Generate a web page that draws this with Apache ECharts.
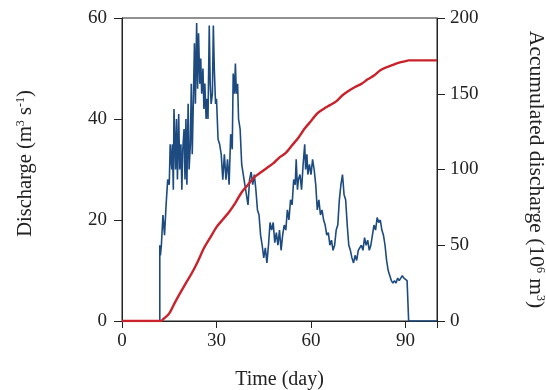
<!DOCTYPE html>
<html>
<head>
<meta charset="utf-8">
<script src="https://cdn.jsdelivr.net/npm/echarts@6/dist/echarts.min.js"></script>
<style>
  html, body { margin: 0; padding: 0; background: #fff; }
  #chart { width: 546px; height: 390px; }
</style>
</head>
<body>
<div id="chart"></div>
<script>
// 日流量 (m3 s-1)
const qDays = [0, 12, 12, 12.2, 12.5, 13, 13.5, 14, 14.5, 15, 15.3, 15.8, 16, 16.3, 16.5, 17, 17.3, 17.6, 18, 18.3, 18.7, 19, 19.3, 19.7, 20, 20.3, 20.6, 21, 21.3, 21.7, 22, 22.3, 22.7, 23, 23.3, 23.7, 24, 24.3, 24.7, 25, 25.3, 25.7, 26, 26.3, 26.7, 27, 27.3, 27.7, 28, 28.3, 28.7, 29, 29.3, 29.7, 30, 30.5, 31, 31.5, 32, 32.5, 33, 33.5, 34, 34.5, 35, 35.3, 35.7, 36, 36.3, 36.7, 37, 37.5, 38, 38.5, 39, 39.5, 40, 40.5, 41, 41.5, 42, 42.5, 43, 43.5, 44, 44.5, 45, 45.5, 46, 46.5, 47, 47.5, 48, 48.5, 49, 49.5, 50, 50.5, 51, 51.5, 52, 52.5, 53, 53.5, 54, 54.5, 55, 55.3, 55.7, 56, 56.5, 57, 57.5, 58, 58.3, 58.7, 59, 59.5, 60, 60.5, 61, 61.5, 62, 62.5, 63, 63.5, 64, 64.5, 65, 65.5, 66, 66.5, 67, 67.5, 68, 68.5, 69, 69.5, 70, 70.5, 71, 71.5, 72, 72.5, 73, 73.5, 74, 74.5, 75, 75.5, 76, 76.5, 77, 77.5, 78, 78.5, 79, 79.5, 80, 80.5, 81, 81.5, 82, 82.5, 83, 83.5, 84, 84.5, 85, 85.5, 86, 86.5, 87, 87.5, 88, 88.5, 89, 89.5, 90, 90.5, 91, 91, 100];
const discharge = [0, 0, 15, 13, 15, 21, 17, 23, 28, 27, 35, 30, 35, 26, 42, 30, 40, 28, 41, 30, 35, 26, 34, 38, 28, 40, 27, 43, 30, 35, 47, 33, 45, 55, 43, 59, 46, 57, 47, 52, 45, 50, 42, 47, 40, 44, 40, 58.5, 47, 43, 45, 58.5, 50, 43, 44, 36, 35, 33, 28, 33, 28, 32, 27, 37, 34, 49, 45, 51, 45, 47, 40, 38, 31, 29, 27, 25, 23, 28, 29.5, 27, 29, 26, 22, 21, 17, 15, 12.5, 14.5, 11.5, 15, 19.5, 18, 19.5, 15.5, 17.5, 15, 18, 14, 17, 19, 18, 22, 20, 24, 23, 28, 27, 32, 26, 28, 29, 26, 31, 35, 30, 33, 29, 31, 29, 32, 30, 27, 22, 24, 21, 22, 20, 19, 17, 17.5, 15, 16, 14, 15, 18, 19, 24, 27, 29, 25, 24, 19, 15, 14, 12.5, 11.5, 13, 12, 14, 14.5, 15, 14, 16.5, 15, 16, 14, 15, 17, 19, 18, 20.5, 19.5, 20, 18, 17, 15, 12, 10, 9, 8, 7.5, 8, 7.5, 8.5, 8, 8.5, 9, 8.5, 8.5, 8, 8, 0, 0];

// 累计流量 (10^6 m3)
const accDays = [0, 12.5, 13, 15, 17, 20, 22, 24, 26, 28, 30, 32, 34, 36, 38, 40, 42, 44, 46, 48, 50, 52, 54, 56, 58, 60, 62, 64, 66, 68, 70, 72, 74, 76, 78, 80, 82, 84, 86, 88, 90, 91, 100];
const accumulated = [0, 0, 1, 5, 13, 24, 31, 39, 48, 55, 62, 67, 72, 78, 85, 90, 95, 98, 101, 104, 108, 111, 116, 121, 127, 132, 137, 140, 142.5, 145, 149, 152, 154.5, 156.5, 159.5, 162, 165.5, 167.5, 169, 170.5, 171.5, 172, 172];

const xTicks = [0, 30, 60, 90];

const chartDom = document.getElementById('chart');
const myChart = echarts.init(chartDom);
const serif = 'Liberation Serif';

const nameRich = {
    sup: { fontSize: 12, fontFamily: serif, color: '#222', padding: [0, 0, 9, 0] }
};

myChart.setOption({
    animation: false,
    textStyle: { fontFamily: serif },
    grid: {
        left: 122,
        right: 109,
        top: 18,
        bottom: 69,
        containLabel: false,
        outerBoundsMode: 'none',
        show: true,
        borderColor: '#222',
        borderWidth: 1
    },
    xAxis: {
        type: 'value',
        min: 0,
        max: 100,
        interval: 30,
        name: 'Time (day)',
        nameLocation: 'middle',
        nameGap: 49,
        nameTextStyle: { fontFamily: serif, fontSize: 20, color: '#222' },
        axisLine: { lineStyle: { color: '#222' } },
        axisTick: { length: 7, lineStyle: { color: '#222' } },
        axisLabel: {
            fontFamily: serif, fontSize: 19, color: '#222', margin: 11,
            formatter: v => xTicks.includes(v) ? String(v) : ''
        },
        splitLine: { show: false }
    },
    yAxis: [{
        type: 'value',
        min: 0,
        max: 60,
        interval: 20,
        name: 'Discharge (m{sup|3} s{sup|-1})',
        nameLocation: 'middle',
        nameGap: 86,
        nameRotate: 90,
        nameTextStyle: { fontFamily: serif, fontSize: 20.5, color: '#222', rich: nameRich, padding: [0, 0, 0, 12] },
        axisLine: { show: true, lineStyle: { color: '#222' } },
        axisTick: { show: true, length: 8, lineStyle: { color: '#222' } },
        axisLabel: { fontFamily: serif, fontSize: 19, color: '#222', margin: 15 },
        splitLine: { show: false }
    }, {
        type: 'value',
        min: 0,
        max: 200,
        interval: 50,
        position: 'right',
        name: 'Accumulated discharge (10{sup|6} m{sup|3})',
        nameLocation: 'middle',
        nameGap: 88,
        nameRotate: -90,
        nameTextStyle: { fontFamily: serif, fontSize: 21.5, color: '#222', rich: nameRich },
        axisLine: { show: true, lineStyle: { color: '#222' } },
        axisTick: { show: true, length: 8, lineStyle: { color: '#222' } },
        axisLabel: { fontFamily: serif, fontSize: 19, color: '#222', margin: 13 },
        splitLine: { show: false }
    }],
    series: [{
        name: 'Discharge',
        type: 'line',
        yAxisIndex: 0,
        symbol: 'none',
        lineStyle: { color: '#1d4b80', width: 1.6 },
        data: qDays.map((d, i) => [d, discharge[i]])
    }, {
        name: 'Accumulated discharge',
        type: 'line',
        yAxisIndex: 1,
        symbol: 'none',
        smooth: 0.3,
        lineStyle: { color: '#c9222b', width: 2.4 },
        data: accDays.map((d, i) => [d, accumulated[i]])
    }]
});

window.onresize = function () {
    myChart.resize();
}
</script>
</body>
</html>
